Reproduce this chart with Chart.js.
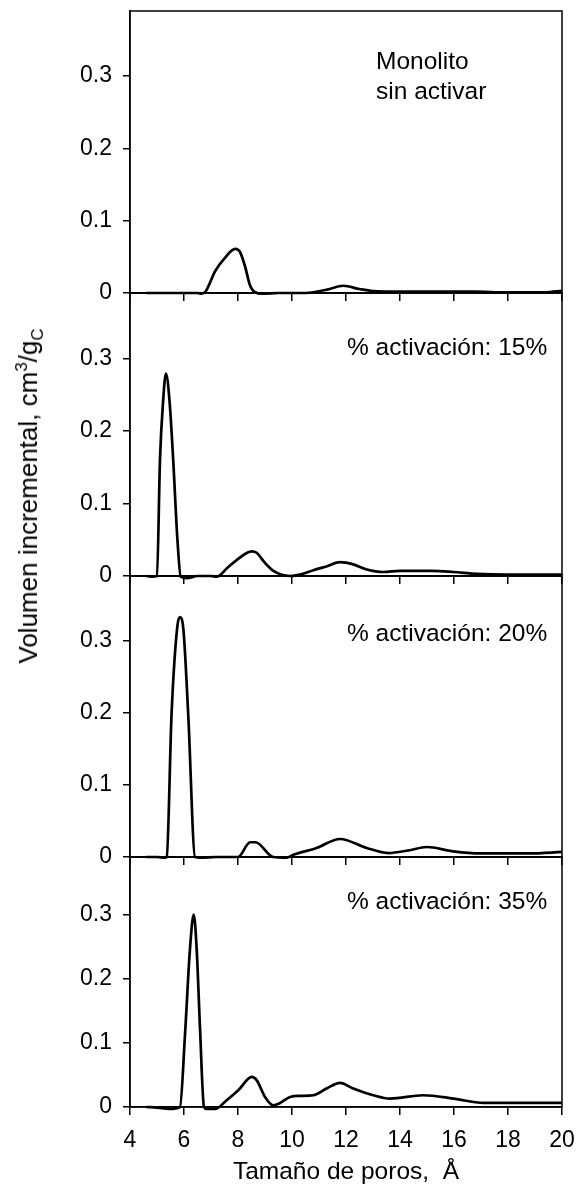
<!DOCTYPE html>
<html>
<head>
<meta charset="utf-8">
<script src="https://cdn.jsdelivr.net/npm/chart.js@4.4.0/dist/chart.umd.min.js"></script>
<style>
html,body{margin:0;padding:0;background:#fff;}
body{width:580px;height:1204px;position:relative;overflow:hidden;font-family:"Liberation Sans",Arial,sans-serif;color:#000;}
canvas{position:absolute;left:0;}
.lbl{position:absolute;font-size:24.5px;line-height:30px;white-space:nowrap;}
#ytitle{position:absolute;left:28px;top:496px;font-size:26px;line-height:30px;white-space:nowrap;transform:translate(-50%,-50%) rotate(-90deg);}
#ytitle sup,#ytitle sub{font-size:65%;line-height:0;}
</style>
</head>
<body>
<canvas id="c1"></canvas>
<canvas id="c2"></canvas>
<canvas id="c3"></canvas>
<canvas id="c4"></canvas>
<div class="lbl" style="left:376px;top:46px;">Monolito<br>sin activar</div>
<div class="lbl" style="left:347px;top:332px;">% activación: 15%</div>
<div class="lbl" style="left:347px;top:618px;">% activación: 20%</div>
<div class="lbl" style="left:347px;top:886px;">% activación: 35%</div>
<div id="ytitle">Volumen incremental, cm<sup>3</sup>/g<sub>C</sub></div>
<script>
// ---- data ----
const xTicks = [4, 6, 8, 10, 12, 14, 16, 18, 20];
const yTicks = [0, 0.1, 0.2, 0.3];
const yTickLabels = ['0', '0.1', '0.2', '0.3'];
const xTitle = 'Tamaño de poros,  Å';

// Monolito sin activar
const x1 = [4.6, 5.5, 6.5, 6.65, 6.8, 7.15, 7.5, 7.9, 8.07, 8.26, 8.44, 8.63, 8.9, 9.5, 10.5, 10.8, 11.3, 11.9, 12.5, 13.0, 14.0, 15.0, 16.8, 17.5, 19.4, 20];
const y1 = [0, 0, 0, -0.001, 0.002, 0.030, 0.048, 0.061, 0.057, 0.037, 0.011, 0.001, -0.001, 0, 0, 0.001, 0.0046, 0.010, 0.0055, 0.0028, 0.002, 0.002, 0.002, 0.001, 0.001, 0.003];

// 15 % activation
const x2 = [4.6, 4.8, 5.0, 5.11, 5.23, 5.33, 5.46, 5.6, 5.75, 5.88, 6.1, 6.5, 7.0, 7.21, 7.6, 7.95, 8.51, 8.69, 9.0, 9.31, 9.93, 10.4, 10.79, 11.3, 11.78, 12.27, 12.77, 13.38, 14.0, 14.5, 15.2, 15.98, 16.84, 18, 20];
const y2 = [0, -0.001, 0, 0.160, 0.243, 0.279, 0.243, 0.160, 0.054, -0.001, -0.003, 0, 0, -0.001, 0.011, 0.022, 0.034, 0.032, 0.018, 0.007, 0, 0.003, 0.008, 0.0135, 0.019, 0.016, 0.009, 0.0055, 0.007, 0.007, 0.007, 0.0055, 0.003, 0.002, 0.002];

// 20 % activation
const x3 = [4.6, 5.0, 5.3, 5.36, 5.54, 5.75, 5.85, 5.98, 6.16, 6.41, 6.6, 7.2, 8.0, 8.45, 8.65, 9.3, 9.8, 10.05, 10.91, 11.78, 12.77, 13.57, 14.3, 14.99, 15.98, 16.96, 18.8, 20];
const y3 = [0, 0, -0.001, 0, 0.199, 0.319, 0.333, 0.315, 0.195, 0, -0.001, 0, 0, 0.0205, 0.0205, 0, -0.001, 0.003, 0.0125, 0.025, 0.0125, 0.0055, 0.009, 0.0139, 0.0078, 0.005, 0.005, 0.007];

// 35 % activation
const x4 = [4.6, 5.0, 5.46, 5.85, 6.04, 6.22, 6.36, 6.47, 6.59, 6.74, 6.84, 7.15, 7.58, 8.01, 8.51, 8.69, 9.0, 9.31, 9.56, 9.93, 10.3, 10.79, 11.28, 11.78, 12.27, 13.01, 13.63, 14.86, 15.98, 17.09, 18.5, 20];
const y4 = [0, -0.001, -0.003, 0, 0.115, 0.246, 0.300, 0.246, 0.126, 0, -0.003, -0.003, 0.0105, 0.026, 0.047, 0.042, 0.0157, 0.0026, 0.0063, 0.0157, 0.0173, 0.0183, 0.0288, 0.0377, 0.0288, 0.0183, 0.0131, 0.0183, 0.0131, 0.0063, 0.0063, 0.0063];

// ---- layout ----
const panels = [
  {id: 'c1', top: 11,  bottom: 293,  xs: x1, ys: y1, last: false},
  {id: 'c2', top: 293, bottom: 576,  xs: x2, ys: y2, last: false},
  {id: 'c3', top: 576, bottom: 857,  xs: x3, ys: y3, last: false},
  {id: 'c4', top: 857, bottom: 1107, xs: x4, ys: y4, last: true}
];
const PAD_TOP = 28;
const AXIS_W = 130;
const CANVAS_W = 600;
const PLOT_RIGHT = 562;

Chart.defaults.font.family = '"Liberation Sans", Arial, sans-serif';
Chart.defaults.color = '#000';

const framePlugin = {
  id: 'frame',
  afterDatasetsDraw(chart) {
    const a = chart.chartArea, ctx = chart.ctx;
    ctx.save();
    ctx.strokeStyle = '#000';
    ctx.lineWidth = 1.5;
    ctx.strokeRect(a.left, a.top, a.right - a.left, a.bottom - a.top);
    ctx.restore();
  }
};

panels.forEach(p => {
  const xh = p.last ? 80 : 32;
  const cv = document.getElementById(p.id);
  const h = PAD_TOP + (p.bottom - p.top) + xh;
  cv.width = CANVAS_W; cv.height = h;
  cv.style.width = CANVAS_W + 'px'; cv.style.height = h + 'px';
  cv.style.top = (p.top - PAD_TOP) + 'px';
  new Chart(cv, {
    type: 'line',
    data: {
      datasets: [{
        data: p.xs.map((x, i) => ({x: x, y: p.ys[i]})),
        borderColor: '#000',
        borderWidth: 2.7,
        pointRadius: 0,
        fill: false,
        clip: false,
        cubicInterpolationMode: 'monotone'
      }]
    },
    options: {
      responsive: false,
      animation: false,
      events: [],
      layout: {padding: {top: PAD_TOP, left: 0, right: CANVAS_W - PLOT_RIGHT, bottom: 0}},
      plugins: {legend: {display: false}, tooltip: {enabled: false}},
      scales: {
        x: {
          type: 'linear', min: 4, max: 20,
          afterBuildTicks: s => { s.ticks = xTicks.map(v => ({value: v})); },
          grid: {display: true, drawOnChartArea: false, drawTicks: true, tickLength: 8, color: '#000', lineWidth: 1.5},
          border: {display: true, color: '#000', width: 1.5},
          ticks: {display: p.last, padding: 12, font: {size: 23}, color: '#000', maxRotation: 0, autoSkip: false},
          title: {display: p.last, text: xTitle, font: {size: 24.5}, color: '#000', padding: 0},
          afterFit: s => { s.height = xh; }
        },
        y: {
          type: 'linear', min: 0, max: 0.39,
          afterBuildTicks: s => { s.ticks = yTicks.map(v => ({value: v})); },
          grid: {display: true, drawOnChartArea: false, drawTicks: true, tickLength: 7, color: '#000', lineWidth: 1.5},
          border: {display: true, color: '#000', width: 1.5},
          ticks: {padding: 11, font: {size: 23}, color: '#000', callback: (v, i) => yTickLabels[i]},
          afterFit: s => { s.width = AXIS_W; }
        }
      }
    },
    plugins: [framePlugin]
  });
});
</script>
</body>
</html>
